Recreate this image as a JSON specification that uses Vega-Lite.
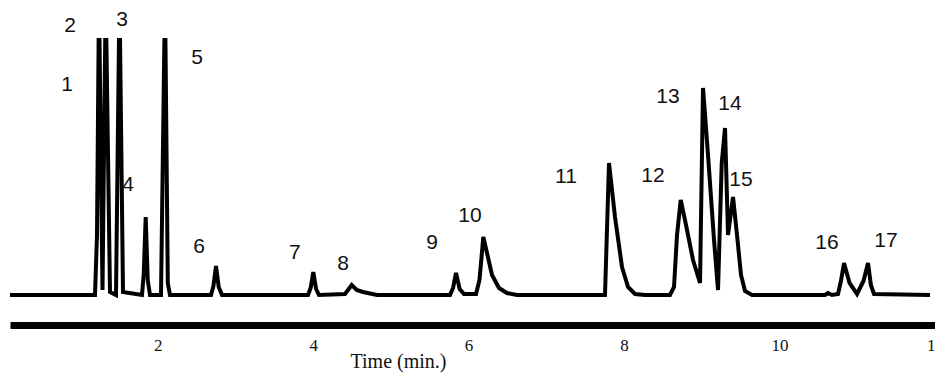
{
  "$schema": "https://vega.github.io/schema/vega-lite/v6.json",
  "autosize": {"type": "none"},
  "width": 925,
  "height": 287,
  "padding": {"left": 10, "top": 38, "right": 0, "bottom": 50},
  "background": "white",
  "config": {"view": {"stroke": null}},
  "datasets": {
    "trace": [
      {"time": 0.100, "signal": 0},
      {"time": 1.1935, "signal": 0},
      {"time": 1.2192, "signal": 60},
      {"time": 1.2450, "signal": 300},
      {"time": 1.2900, "signal": 5},
      {"time": 1.3312, "signal": 300},
      {"time": 1.3865, "signal": 3},
      {"time": 1.4637, "signal": 0},
      {"time": 1.5087, "signal": 300},
      {"time": 1.5537, "signal": 3},
      {"time": 1.7982, "signal": 0},
      {"time": 1.8200, "signal": 20},
      {"time": 1.8458, "signal": 78},
      {"time": 1.8720, "signal": 15},
      {"time": 1.9011, "signal": 0},
      {"time": 2.0426, "signal": 0},
      {"time": 2.0941, "signal": 300},
      {"time": 2.1300, "signal": 12},
      {"time": 2.1584, "signal": 0},
      {"time": 2.6858, "signal": 0},
      {"time": 2.7170, "signal": 9},
      {"time": 2.7502, "signal": 29},
      {"time": 2.7850, "signal": 8},
      {"time": 2.8274, "signal": 0},
      {"time": 3.9338, "signal": 0},
      {"time": 3.9680, "signal": 7},
      {"time": 4.0019, "signal": 23},
      {"time": 4.0380, "signal": 6},
      {"time": 4.0752, "signal": 0},
      {"time": 4.4098, "signal": 1},
      {"time": 4.4960, "signal": 10},
      {"time": 4.5600, "signal": 5},
      {"time": 4.6414, "signal": 3},
      {"time": 4.8215, "signal": 0},
      {"time": 5.7606, "signal": 0},
      {"time": 5.8000, "signal": 7},
      {"time": 5.8378, "signal": 22},
      {"time": 5.8850, "signal": 6},
      {"time": 5.9407, "signal": 1},
      {"time": 6.0951, "signal": 1},
      {"time": 6.1400, "signal": 15},
      {"time": 6.1890, "signal": 58},
      {"time": 6.2366, "signal": 42},
      {"time": 6.3010, "signal": 20},
      {"time": 6.3910, "signal": 7},
      {"time": 6.4939, "signal": 2},
      {"time": 6.6226, "signal": 0},
      {"time": 7.7546, "signal": 0},
      {"time": 7.8061, "signal": 132},
      {"time": 7.8833, "signal": 78},
      {"time": 7.9734, "signal": 28},
      {"time": 8.0506, "signal": 8},
      {"time": 8.1406, "signal": 1},
      {"time": 8.2693, "signal": 0},
      {"time": 8.5910, "signal": 0},
      {"time": 8.6425, "signal": 8},
      {"time": 8.6811, "signal": 60},
      {"time": 8.7287, "signal": 95},
      {"time": 8.7969, "signal": 70},
      {"time": 8.8869, "signal": 35},
      {"time": 8.9770, "signal": 12},
      {"time": 9.0156, "signal": 207},
      {"time": 9.0799, "signal": 140},
      {"time": 9.1571, "signal": 55},
      {"time": 9.2086, "signal": 5},
      {"time": 9.2562, "signal": 132},
      {"time": 9.2986, "signal": 167},
      {"time": 9.3372, "signal": 60},
      {"time": 9.4016, "signal": 98},
      {"time": 9.4530, "signal": 60},
      {"time": 9.5045, "signal": 20},
      {"time": 9.5560, "signal": 4},
      {"time": 9.6460, "signal": 0},
      {"time": 10.5852, "signal": 0},
      {"time": 10.6238, "signal": 2},
      {"time": 10.6752, "signal": 0},
      {"time": 10.7524, "signal": 1},
      {"time": 10.7900, "signal": 14},
      {"time": 10.8296, "signal": 32},
      {"time": 10.9000, "signal": 12},
      {"time": 10.9969, "signal": 1},
      {"time": 11.0800, "signal": 14},
      {"time": 11.1384, "signal": 32},
      {"time": 11.1750, "signal": 10},
      {"time": 11.2156, "signal": 1},
      {"time": 11.9358, "signal": 0}
    ],
    "peaks": [
      {"peak": "1", "time": 0.833, "signal": 210},
      {"peak": "2", "time": 0.872, "signal": 269},
      {"peak": "3", "time": 1.541, "signal": 275},
      {"peak": "4", "time": 1.618, "signal": 110},
      {"peak": "5", "time": 2.506, "signal": 237},
      {"peak": "6", "time": 2.532, "signal": 48},
      {"peak": "7", "time": 3.766, "signal": 42},
      {"peak": "8", "time": 4.384, "signal": 31},
      {"peak": "9", "time": 5.529, "signal": 52},
      {"peak": "10", "time": 6.018, "signal": 79},
      {"peak": "11", "time": 7.253, "signal": 118},
      {"peak": "12", "time": 8.372, "signal": 119},
      {"peak": "13", "time": 8.565, "signal": 198},
      {"peak": "14", "time": 9.363, "signal": 191},
      {"peak": "15", "time": 9.504, "signal": 115},
      {"peak": "16", "time": 10.611, "signal": 52},
      {"peak": "17", "time": 11.370, "signal": 54}
    ]
  },
  "layer": [
    {
      "mark": {"type": "rule", "color": "#8a8a8a", "strokeWidth": 3},
      "encoding": {
        "y": {"datum": -24.5, "type": "quantitative", "scale": {"domain": [-30, 257]}, "axis": null}
      }
    },
    {
      "data": {"name": "trace"},
      "mark": {"type": "line", "color": "#000000", "strokeWidth": 4, "clip": true, "interpolate": "linear"},
      "encoding": {
        "x": {
          "field": "time",
          "type": "quantitative",
          "scale": {"domain": [0.1, 12], "nice": false, "zero": false},
          "axis": {
            "values": [2, 4, 6, 8, 10, 12],
            "format": "d",
            "grid": false,
            "ticks": false,
            "domain": true,
            "domainColor": "#000000",
            "domainWidth": 7,
            "labelFont": "Liberation Serif",
            "labelFontSize": 17,
            "labelColor": "#111111",
            "labelPadding": 12,
            "labelFlush": false,
            "labelOverlap": false,
            "title": "Time (min.)",
            "titleFont": "Liberation Serif",
            "titleFontSize": 20,
            "titleFontWeight": "normal",
            "titleColor": "#111111",
            "titleX": 388,
            "titleY": 42,
            "titleAlign": "center",
            "titleBaseline": "alphabetic"
          }
        },
        "y": {
          "field": "signal",
          "type": "quantitative",
          "scale": {"domain": [-30, 257], "nice": false, "zero": false},
          "axis": null
        }
      }
    },
    {
      "data": {"name": "peaks"},
      "mark": {"type": "text", "font": "Liberation Sans", "fontSize": 21, "color": "#111111", "align": "center", "baseline": "middle"},
      "encoding": {
        "x": {"field": "time", "type": "quantitative"},
        "y": {"field": "signal", "type": "quantitative"},
        "text": {"field": "peak"}
      }
    }
  ]
}
